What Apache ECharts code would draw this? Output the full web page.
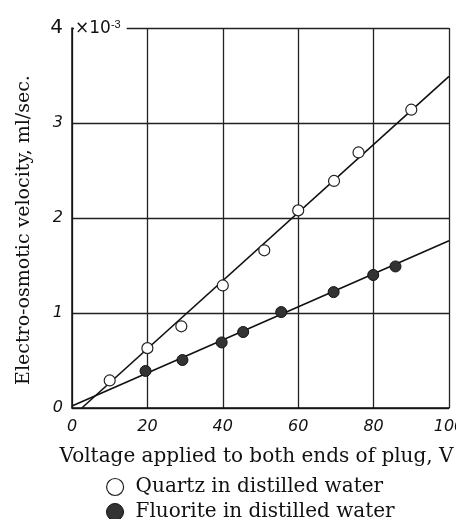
<!DOCTYPE html>
<html>
<head>
<meta charset="utf-8">
<script src="https://cdn.jsdelivr.net/npm/echarts@6/dist/echarts.min.js"></script>
<style>
  html, body { margin: 0; padding: 0; background: #fff; }
  #chart { width: 456px; height: 519px; }
</style>
</head>
<body>
<div id="chart"></div>
<script>
// voltage (V) and velocity (x10^-3 ml/sec)
var quartzX = [10, 20, 29, 40, 51, 60, 69.5, 76, 90];
var quartzY = [0.29, 0.63, 0.86, 1.29, 1.66, 2.08, 2.39, 2.69, 3.14];
var fluoriteX = [19.5, 29.3, 39.7, 45.4, 55.5, 69.4, 79.9, 85.8];
var fluoriteY = [0.39, 0.505, 0.69, 0.80, 1.01, 1.22, 1.40, 1.49];
// fitted lines (end points)
var quartzFit = [[2.6, 0], [100, 3.49]];
var fluoriteFit = [[0, 0.02], [100, 1.76]];
var xTicks = [0, 20, 40, 60, 80, 100];
var yTicks = [0, 1, 2, 3, 4];

function pairs(xs, ys) {
    var out = [];
    for (var i = 0; i < xs.length; i++) out.push([xs[i], ys[i]]);
    return out;
}

var serif = "'DejaVu Serif', 'Liberation Serif', serif";
var tickFont = { fontFamily: "'DejaVu Sans', sans-serif", fontStyle: 'italic', fontSize: 16, color: '#111' };
var legendText = { fontFamily: serif, fontSize: 20, color: '#111', padding: [0, 0, 0, 7] };

var chart = echarts.init(document.getElementById('chart'));
var option = {
    animation: false,
    backgroundColor: '#fff',
    grid: { left: 72, right: 7, top: 28, bottom: 111, containLabel: false, outerBoundsMode: 'none' },
    xAxis: {
        type: 'value', min: 0, max: 100, interval: 20,
        axisLine: { lineStyle: { color: '#111', width: 1.5 } },
        axisTick: { show: false },
        splitLine: { show: true, lineStyle: { color: '#222', width: 1.3 } },
        axisLabel: Object.assign({ margin: 11, showMaxLabel: true }, tickFont, {
            formatter: function (v) { return xTicks.indexOf(v) >= 0 ? String(v) : ''; }
        }),
        name: 'Voltage applied to both ends of plug, V',
        nameLocation: 'middle', nameGap: 39,
        nameTextStyle: { fontFamily: serif, fontSize: 20, color: '#111', padding: [0, 8, 0, 0] }
    },
    yAxis: {
        type: 'value', min: 0, max: 4, interval: 1,
        axisLine: { show: true, lineStyle: { color: '#111', width: 1.5 } },
        axisTick: { show: false },
        splitLine: { show: true, lineStyle: { color: '#222', width: 1.3 } },
        axisLabel: Object.assign({ margin: 9 }, tickFont, {
            formatter: function (v) {
                if (yTicks.indexOf(v) < 0) return '';
                return v === 4 ? '{big|4}' : String(v);
            },
            rich: { big: { fontSize: 20, fontStyle: 'normal', fontFamily: "'DejaVu Sans', sans-serif", color: '#111' } }
        }),
        name: 'Electro-osmotic velocity, ml/sec.',
        nameLocation: 'middle', nameGap: 38,
        nameTextStyle: { fontFamily: serif, fontSize: 19, color: '#111', padding: [0, 24, 0, 0] }
    },
    legend: [
        {
            left: 106, top: 477, padding: 0, itemWidth: 17, itemHeight: 17,
            textStyle: legendText,
            data: [{ name: 'Quartz in distilled water', icon: 'circle',
                     itemStyle: { color: '#fff', borderColor: '#222', borderWidth: 1.2 } }]
        },
        {
            left: 106, top: 502, padding: 0, itemWidth: 17, itemHeight: 17,
            textStyle: legendText,
            data: [{ name: 'Fluorite in distilled water', icon: 'circle',
                     itemStyle: { color: '#333', borderColor: '#111', borderWidth: 1 } }]
        }
    ],
    graphic: [{
        type: 'text', left: 74, top: 17, z: 100,
        style: {
            text: '×10{s|-3}', font: "17px 'DejaVu Sans', sans-serif", fill: '#111',
            rich: { s: { fontSize: 11, verticalAlign: 'top', padding: [0, 0, 8, 0] } },
            backgroundColor: '#fff', padding: [2, 6, 2, 1]
        }
    }],
    series: [
        {
            name: 'quartz fit', type: 'line', data: quartzFit, symbol: 'none',
            lineStyle: { color: '#111', width: 1.6 }, z: 2
        },
        {
            name: 'fluorite fit', type: 'line', data: fluoriteFit, symbol: 'none',
            lineStyle: { color: '#111', width: 1.6 }, z: 2
        },
        {
            name: 'Quartz in distilled water', type: 'scatter', symbol: 'circle', symbolSize: 11,
            data: pairs(quartzX, quartzY),
            itemStyle: { color: '#fff', borderColor: '#222', borderWidth: 1.2, opacity: 1 }, z: 3
        },
        {
            name: 'Fluorite in distilled water', type: 'scatter', symbol: 'circle', symbolSize: 11,
            data: pairs(fluoriteX, fluoriteY),
            itemStyle: { color: '#333', borderColor: '#111', borderWidth: 1, opacity: 1 }, z: 3
        }
    ]
};
chart.setOption(option);
</script>
</body>
</html>
